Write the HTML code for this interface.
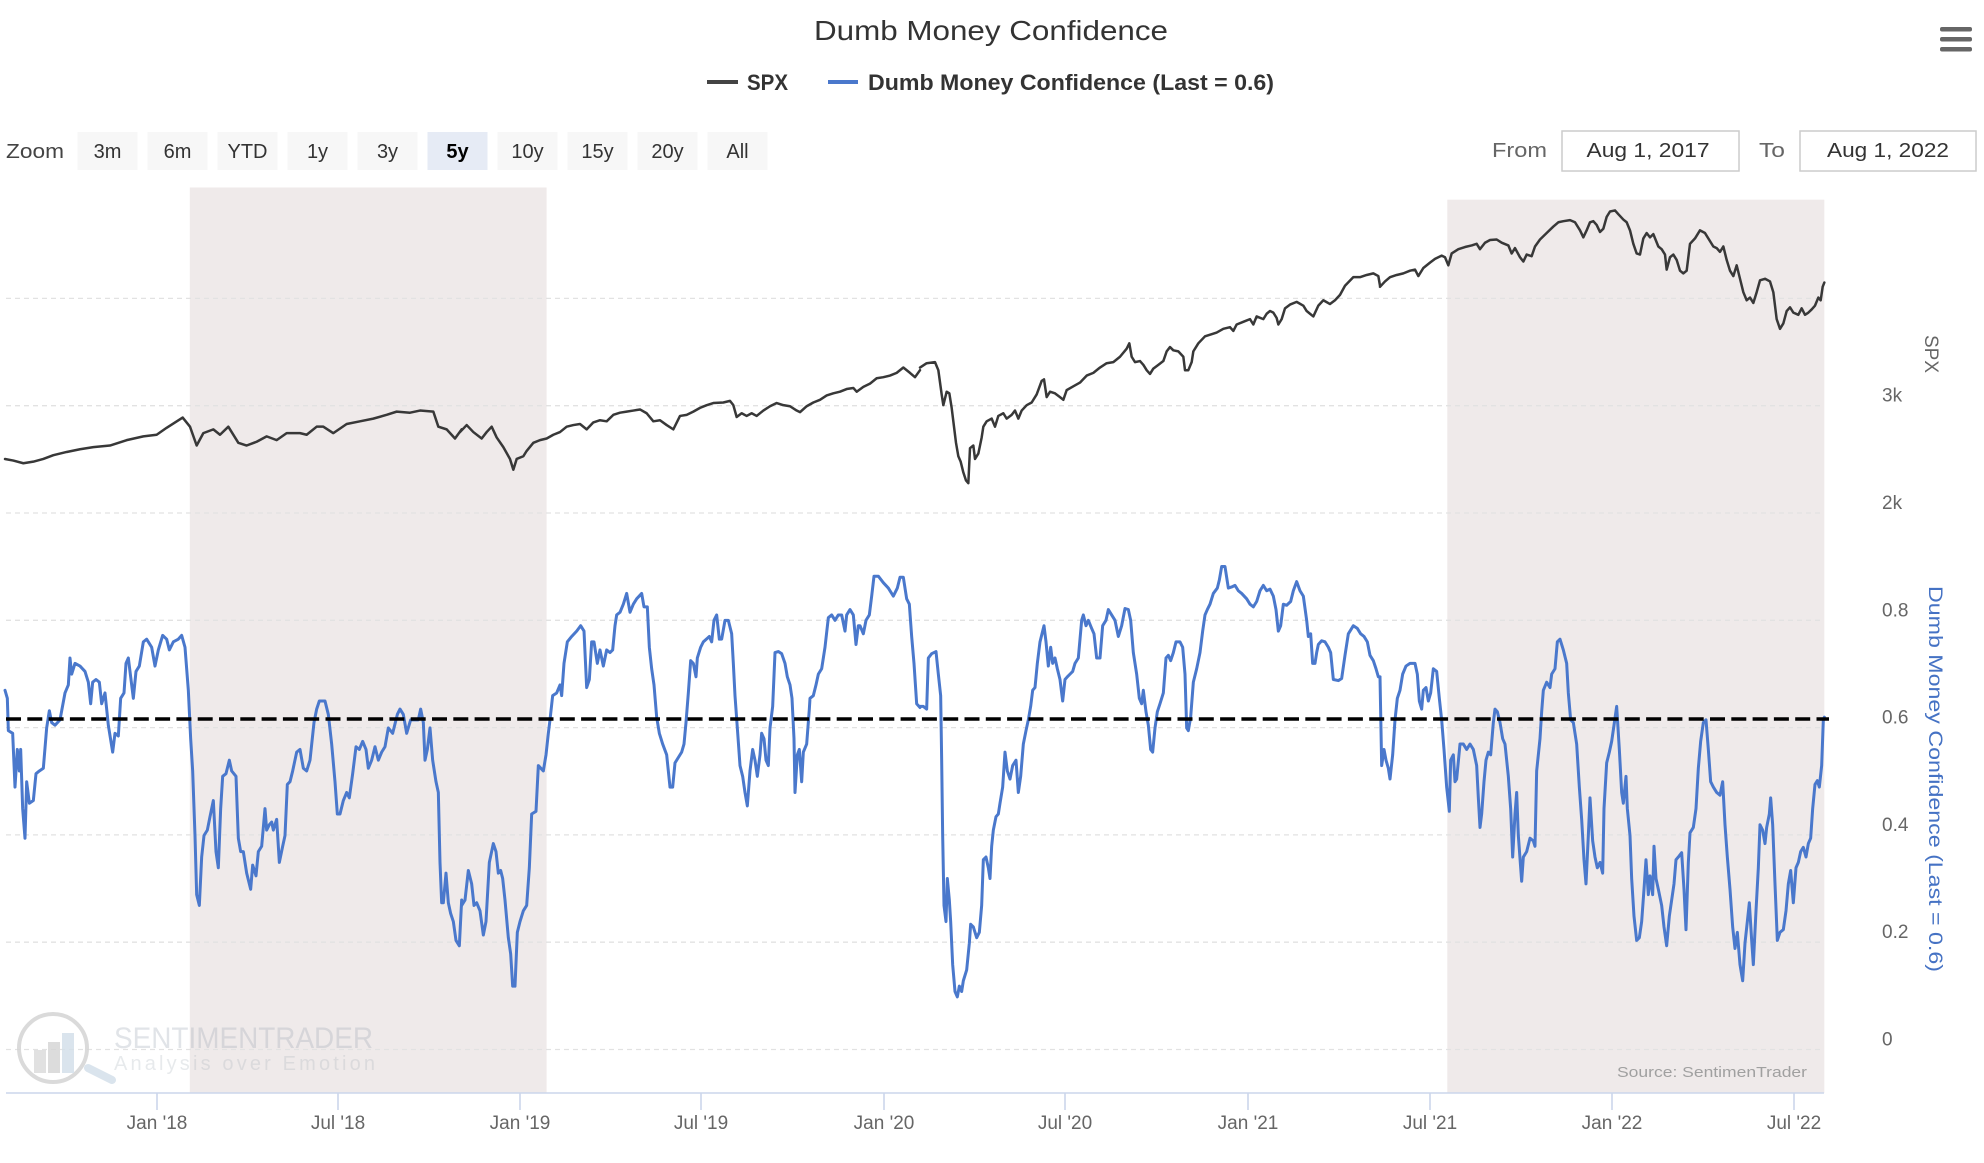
<!DOCTYPE html>
<html><head><meta charset="utf-8">
<style>
html,body{margin:0;padding:0;background:#fff;}
svg{display:block;}
text{font-family:"Liberation Sans",sans-serif;}
</style></head>
<body>
<svg width="1984" height="1163" viewBox="0 0 1984 1163" xmlns="http://www.w3.org/2000/svg">
<rect x="0" y="0" width="1984" height="1163" fill="#fff"/>

<!-- Title -->
<text x="991" y="40" text-anchor="middle" font-size="28" fill="#333" textLength="354" lengthAdjust="spacingAndGlyphs">Dumb Money Confidence</text>

<!-- Hamburger -->
<rect x="1940" y="27" width="32" height="4.5" rx="2" fill="#666"/>
<rect x="1940" y="37" width="32" height="4.5" rx="2" fill="#666"/>
<rect x="1940" y="47" width="32" height="4.5" rx="2" fill="#666"/>

<!-- Legend -->
<line x1="707" y1="82" x2="738" y2="82" stroke="#444" stroke-width="4"/>
<text x="747" y="90" font-size="22" font-weight="bold" fill="#333" textLength="41" lengthAdjust="spacingAndGlyphs">SPX</text>
<line x1="828" y1="82" x2="858" y2="82" stroke="#4a78cc" stroke-width="4"/>
<text x="868" y="90" font-size="22" font-weight="bold" fill="#333" textLength="406" lengthAdjust="spacingAndGlyphs">Dumb Money Confidence (Last = 0.6)</text>

<!-- Zoom buttons -->
<text x="6" y="158" font-size="20" fill="#444" textLength="58" lengthAdjust="spacingAndGlyphs">Zoom</text>
<g font-size="20" fill="#333" text-anchor="middle">
<rect x="77.5" y="132" width="60" height="38" fill="#f7f7f7"/><text x="107.5" y="158">3m</text>
<rect x="147.5" y="132" width="60" height="38" fill="#f7f7f7"/><text x="177.5" y="158">6m</text>
<rect x="217.5" y="132" width="60" height="38" fill="#f7f7f7"/><text x="247.5" y="158">YTD</text>
<rect x="287.5" y="132" width="60" height="38" fill="#f7f7f7"/><text x="317.5" y="158">1y</text>
<rect x="357.5" y="132" width="60" height="38" fill="#f7f7f7"/><text x="387.5" y="158">3y</text>
<rect x="427.5" y="132" width="60" height="38" fill="#e6ebf5"/><text x="457.5" y="158" font-weight="bold" fill="#000">5y</text>
<rect x="497.5" y="132" width="60" height="38" fill="#f7f7f7"/><text x="527.5" y="158">10y</text>
<rect x="567.5" y="132" width="60" height="38" fill="#f7f7f7"/><text x="597.5" y="158">15y</text>
<rect x="637.5" y="132" width="60" height="38" fill="#f7f7f7"/><text x="667.5" y="158">20y</text>
<rect x="707.5" y="132" width="60" height="38" fill="#f7f7f7"/><text x="737.5" y="158">All</text>
</g>

<!-- From / To -->
<text x="1492" y="157" font-size="20" fill="#666" textLength="55" lengthAdjust="spacingAndGlyphs">From</text>
<rect x="1562" y="131" width="177" height="40" fill="#fff" stroke="#ccc" stroke-width="1.5"/>
<text x="1648" y="157" font-size="20" fill="#333" text-anchor="middle" textLength="123" lengthAdjust="spacingAndGlyphs">Aug 1, 2017</text>
<text x="1759" y="157" font-size="20" fill="#666" textLength="26" lengthAdjust="spacingAndGlyphs">To</text>
<rect x="1800" y="131" width="176" height="40" fill="#fff" stroke="#ccc" stroke-width="1.5"/>
<text x="1888" y="157" font-size="20" fill="#333" text-anchor="middle" textLength="122" lengthAdjust="spacingAndGlyphs">Aug 1, 2022</text>

<!-- Shaded bands -->
<rect x="189.8" y="187.5" width="356.8" height="905.5" fill="#efeaea"/>
<rect x="1447.3" y="199.7" width="377" height="893.3" fill="#efeaea"/>

<!-- Gridlines -->
<g stroke="#e2e2e2" stroke-width="1.3" stroke-dasharray="5,4">
<line x1="6" y1="298.4" x2="1824" y2="298.4"/>
<line x1="6" y1="405.7" x2="1824" y2="405.7"/>
<line x1="6" y1="513" x2="1824" y2="513"/>
<line x1="6" y1="620.3" x2="1824" y2="620.3"/>
<line x1="6" y1="727.6" x2="1824" y2="727.6"/>
<line x1="6" y1="834.9" x2="1824" y2="834.9"/>
<line x1="6" y1="942.2" x2="1824" y2="942.2"/>
<line x1="6" y1="1049.5" x2="1824" y2="1049.5"/>
</g>

<!-- Watermark -->
<g opacity="0.85">
<circle cx="53" cy="1048" r="34" fill="none" stroke="#d4d4d4" stroke-width="4"/>
<rect x="34" y="1050" width="12" height="23" fill="#dcdcdc"/>
<rect x="48" y="1042" width="12" height="31" fill="#d6d6d6"/>
<rect x="62" y="1033" width="12" height="40" fill="#d4e0ea"/>
<line x1="88" y1="1068" x2="112" y2="1080" stroke="#d4e0ea" stroke-width="8" stroke-linecap="round"/>
<text x="114" y="1048" font-size="30" fill="#9aa5b1" opacity="0.35" textLength="259" lengthAdjust="spacingAndGlyphs">SENTIMENTRADER</text>
<text x="114" y="1070" font-size="20" fill="#9aa5b1" opacity="0.28" textLength="261" lengthAdjust="spacing">Analysis over Emotion</text>
</g>
<text x="1807" y="1077" font-size="15" fill="#a0a0a0" text-anchor="end" textLength="190" lengthAdjust="spacingAndGlyphs">Source: SentimenTrader</text>

<!-- SPX series -->
<g fill="none" stroke="#383838" stroke-width="2.5" stroke-linejoin="round" stroke-linecap="round">
<g transform="translate(0,190) scale(0.333333,0.537923)">
<path vector-effect="non-scaling-stroke" d="M15,500 L40,503 70,508 100,505 130,500 160,493 200,487 240,482 280,478 330,475 380,465 430,458 470,455 500,442 548,423 570,440 590,475 610,452 640,445 660,455 685,440 715,470 740,475 770,468 800,458 830,465 860,452 900,452 920,455 950,440 970,440 1000,452 1040,435 1080,430 1120,425 1160,418 1190,412 1230,414 1260,410 1300,412 1315,440 1340,445 1365,462 1385,445"/>
</g>
<g transform="translate(460,190) scale(0.333333,0.537923)">
<path vector-effect="non-scaling-stroke" d="M0,450 L20,437 40,450 65,462 80,450 95,440 110,460 130,478 150,500 160,520 170,500 190,495 200,485 220,470 240,465 260,462 280,455 300,450 320,440 340,437 360,435 380,445 400,432 420,428 440,430 460,418 480,414 500,412 520,410 540,408 560,415 580,430 600,428 620,437 640,445 660,420 680,418 700,412 720,405 740,400 760,396 790,395 810,392 820,400 830,422 845,415 860,420 875,415 890,420 910,410 930,402 950,396 970,400 990,402 1010,410 1020,413 1040,402 1060,395 1080,390 1100,382 1120,378 1140,375 1160,370 1180,368 1190,375 1210,366 1230,360 1250,350 1270,348 1290,345 1310,340 1330,330 1350,340 1365,348 1380,335"/>
</g>
<g transform="translate(920,190) scale(0.333333,0.537923)">
<path vector-effect="non-scaling-stroke" d="M0,330 L20,322 45,320 55,335 65,380 70,400 80,375 88,378 95,405 100,430 108,470 115,495 122,505 130,525 138,540 145,545 150,480 160,475 165,500 175,490 185,460 190,440 200,430 215,425 225,440 235,420 250,415 260,425 275,418 285,410 295,425 305,410 320,400 335,395 350,380 365,355 372,352 380,385 390,375 405,378 420,385 430,390 440,372 460,365 480,358 500,345 520,340 540,330 560,322 580,320 600,310 620,295 628,285 635,310 645,320 660,318 670,325 680,335 690,342 700,332 715,325 730,318 740,300 750,292 760,298 775,300 790,310 795,335 805,335 815,320 820,300 835,285 855,272 875,268 890,265 910,258 930,255 940,262 950,250 970,245 990,240 1000,250 1010,235 1030,240 1040,230 1050,225 1060,228 1070,238 1075,250 1085,240 1095,220 1110,213 1130,208 1150,215 1160,225 1170,230 1180,235 1195,215 1210,205 1230,212 1245,205 1260,195 1275,178 1300,162 1320,162 1340,158 1360,155 1375,160 1380,178"/>
</g>
<g transform="translate(1380,190) scale(0.333333,0.537923)">
<path vector-effect="non-scaling-stroke" d="M0,180 L15,170 30,162 50,158 70,155 90,150 105,148 115,160 130,145 150,135 165,128 185,122 195,125 205,140 215,118 235,110 255,106 275,103 290,100 300,110 315,98 330,93 350,92 365,98 385,103 395,118 405,108 420,125 430,133 440,120 455,123 465,105 480,92 500,80 520,68 535,60 550,58 570,56 585,60 600,75 610,88 620,75 630,60 640,58 650,65 660,78 670,72 680,50 690,40 705,38 715,45 730,55 740,60 750,75 760,100 770,118 780,120 790,90 800,80 810,88 820,82 835,105 845,110 855,120 860,148 870,125 880,120 890,130 900,150 910,155 920,150 930,100 945,90 960,75 975,80 990,95 1000,105 1010,108 1020,115 1030,105 1040,130 1050,150 1060,160 1070,140 1080,165 1090,190 1100,205 1110,200 1120,210 1130,190 1140,168 1155,165 1170,170 1180,190 1190,240 1200,258 1210,248 1220,225 1230,218 1240,228 1255,232 1265,220 1275,232 1285,228 1295,222 1305,215 1315,200 1322,205 1328,180 1333,172"/>
</g>
</g>

<!-- DMC series -->
<g fill="none" stroke="#4a78cc" stroke-width="3" stroke-linejoin="round" stroke-linecap="round">
<g transform="translate(0,190) scale(0.333333,0.537923)">
<path vector-effect="non-scaling-stroke" d="M15,930 L22,945 25,1005 38,1010 45,1110 52,1040 58,1080 62,1040 68,1150 75,1205 80,1100 88,1140 100,1135 108,1085 118,1080 130,1075 140,1000 148,968 155,990 165,995 180,985 195,935 205,920 210,870 215,900 225,880 240,885 255,895 265,915 272,955 278,915 288,910 298,915 305,955 315,935 325,995 338,1045 345,1010 355,1015 362,945 372,935 378,880 385,870 392,905 400,945 408,895 418,885 430,840 440,835 455,850 465,885 475,855 488,828 500,835 508,855 520,840 535,835 545,828 555,850 565,930 572,1020 578,1080 585,1200 590,1310 598,1330 605,1240 612,1200 622,1190 630,1165 640,1135 648,1230 655,1260 662,1150 668,1090 678,1085 688,1060 695,1080 708,1090 715,1205 722,1230 730,1230 740,1270 752,1300 758,1255 768,1275 775,1230 785,1220 795,1150 800,1190 808,1180 815,1175 820,1190 830,1170 838,1250 848,1220 855,1200 862,1105 870,1100 878,1080 890,1045 900,1040 910,1075 920,1080 930,1060 942,990 950,965 958,950 975,950 985,975 995,1030 1005,1100 1012,1160 1020,1160 1030,1135 1040,1120 1048,1130 1058,1085 1068,1035 1078,1040 1088,1025 1098,1040 1105,1075 1115,1060 1125,1035 1135,1060 1145,1045 1155,1035 1165,1000 1178,1010 1192,975 1200,965 1210,975 1220,1010 1232,985 1245,985 1255,985 1262,965 1270,990 1275,1060 1282,1040 1290,1000 1298,1060 1308,1100 1315,1120 1320,1250 1325,1325 1330,1325 1338,1270 1345,1325 1352,1345 1360,1360 1368,1395 1378,1405 1385,1320"/>
</g>
<g transform="translate(460,190) scale(0.333333,0.537923)">
<path vector-effect="non-scaling-stroke" d="M5,1330 L15,1320 25,1265 35,1290 42,1330 50,1325 60,1340 70,1385 78,1360 88,1250 100,1215 108,1230 115,1270 122,1265 128,1280 135,1320 145,1390 152,1420 158,1480 165,1480 172,1380 180,1360 190,1340 200,1330 208,1260 215,1160 228,1155 235,1070 250,1080 258,1050 265,1010 270,985 278,940 290,935 300,920 305,940 312,880 322,840 335,830 350,820 362,810 372,820 380,925 388,910 395,840 402,840 412,880 420,855 430,885 440,855 450,860 458,855 465,810 470,790 480,785 490,770 500,750 510,785 520,770 530,760 545,750 552,775 562,775 568,850 575,890 582,920 590,980 598,1010 608,1030 620,1050 630,1110 638,1110 645,1065 655,1055 665,1045 672,1030 678,990 685,935 692,875 700,880 708,905 712,870 722,850 730,840 748,830 755,840 762,800 770,790 778,835 785,835 795,800 805,800 815,825 820,880 825,940 832,1000 840,1070 848,1090 855,1120 862,1145 870,1080 878,1040 885,1060 892,1090 900,1050 905,1010 912,1020 918,1060 925,1070 930,1000 938,960 945,860 955,858 965,862 975,880 982,905 990,920 996,945 1002,1020 1005,1120 1012,1050 1018,1040 1025,1100 1030,1045 1040,1030 1048,965 1050,945 1060,940 1068,920 1075,900 1085,890 1095,850 1105,795 1115,790 1125,800 1135,790 1145,790 1155,820 1160,790 1170,780 1180,790 1188,845 1195,810 1200,810 1210,825 1218,800 1228,790 1235,755 1242,718 1255,718 1270,730 1285,740 1300,755 1312,740 1320,720 1330,720 1340,760 1348,770 1355,830 1362,880 1370,955 1380,962"/>
</g>
<g transform="translate(920,190) scale(0.333333,0.537923)">
<path vector-effect="non-scaling-stroke" d="M0,960 L10,960 20,965 25,870 35,862 48,858 55,900 62,940 65,1060 68,1200 72,1330 78,1360 82,1280 88,1320 92,1360 98,1440 105,1490 112,1500 118,1480 125,1490 130,1470 140,1450 148,1400 152,1365 160,1370 170,1390 178,1380 185,1330 190,1245 198,1240 205,1260 210,1280 215,1220 220,1190 228,1165 235,1160 240,1140 248,1110 255,1045 262,1080 270,1095 278,1070 288,1060 295,1120 302,1090 310,1030 318,1005 325,985 332,960 338,930 345,925 352,880 360,840 372,810 378,840 385,885 392,850 398,880 405,870 412,890 420,910 428,950 435,910 442,905 450,900 458,895 465,880 475,870 485,800 490,790 498,810 505,800 515,815 522,825 530,870 540,870 548,810 558,800 565,780 575,790 585,800 595,830 605,810 615,778 625,780 632,800 640,860 650,900 658,945 665,955 670,930 678,970 685,995 692,1040 698,1045 705,1000 712,970 720,955 730,935 738,870 745,865 752,875 760,860 768,840 780,840 788,850 795,900 800,1000 805,1005 812,980 820,915 830,890 840,860 848,820 855,790 862,780 870,770 880,750 892,740 898,725 905,700 915,700 925,740 935,738 945,735 955,745 965,750 980,760 990,770 1000,775 1010,765 1020,745 1030,735 1040,745 1050,742 1060,755 1068,780 1075,820 1082,810 1090,770 1100,772 1112,765 1120,745 1130,728 1140,745 1150,755 1160,800 1165,830 1172,825 1178,880 1185,880 1190,860 1195,845 1205,838 1215,840 1225,850 1232,860 1240,910 1255,912 1265,908 1275,865 1285,825 1300,810 1312,815 1322,825 1332,830 1342,840 1350,865 1360,875 1368,890 1375,905 1380,905"/>
</g>
<g transform="translate(1380,190) scale(0.333333,0.537923)">
<path vector-effect="non-scaling-stroke" d="M0,905 L5,1070 12,1040 18,1060 25,1075 30,1095 38,1050 45,985 52,945 60,930 68,900 78,885 90,880 105,880 112,900 118,950 125,965 130,930 138,925 145,950 152,935 160,890 170,895 178,945 185,985 192,1040 200,1110 208,1155 212,1060 220,1050 225,1100 230,1095 240,1030 250,1030 260,1040 270,1030 280,1040 290,1070 295,1130 300,1185 305,1160 312,1100 318,1060 325,1045 332,1050 340,990 345,965 352,970 360,990 368,1020 375,1030 385,1090 392,1150 398,1240 405,1160 410,1120 415,1200 425,1285 430,1240 440,1230 450,1205 460,1210 465,1220 470,1080 480,1020 485,970 490,930 500,915 510,925 515,900 525,890 532,840 540,835 550,855 560,880 565,935 572,985 580,990 590,1030 598,1110 605,1170 612,1245 618,1290 625,1200 630,1130 638,1210 645,1240 652,1260 660,1250 668,1270 672,1150 680,1065 688,1045 695,1025 702,995 710,960 718,1040 725,1120 730,1140 738,1090 742,1150 750,1200 755,1280 762,1350 770,1395 778,1390 785,1360 792,1300 798,1245 805,1310 810,1275 818,1310 822,1220 828,1280 835,1300 845,1330 852,1370 860,1405 868,1350 875,1320 882,1290 888,1245 895,1240 905,1232 912,1300 918,1375 925,1250 930,1195 940,1185 948,1150 955,1075 962,1025 970,990 978,985 985,1040 992,1100 1000,1110 1010,1120 1020,1125 1028,1100 1035,1180 1042,1240 1050,1300 1058,1370 1065,1410 1072,1380 1080,1440 1088,1470 1095,1400 1102,1360 1108,1325 1115,1395 1120,1440 1128,1340 1135,1260 1140,1180 1148,1190 1155,1215 1160,1185 1168,1160 1172,1130 1178,1180 1185,1290 1192,1395 1200,1380 1210,1375 1218,1340 1225,1290 1232,1265 1240,1325 1248,1260 1255,1250 1262,1230 1270,1222 1278,1240 1285,1215 1292,1205 1298,1150 1305,1105 1312,1098 1318,1110 1325,1070 1330,985 1333,980"/>
</g>
</g>

<!-- Dashed 0.6 line -->
<line x1="6" y1="719" x2="1829" y2="719" stroke="#000" stroke-width="3.5" stroke-dasharray="15,6.3"/>

<!-- X axis -->
<line x1="6" y1="1093" x2="1824" y2="1093" stroke="#ccd6eb" stroke-width="1.6"/>
<g stroke="#ccd6eb" stroke-width="1.6">
<line x1="157" y1="1093" x2="1093" y2="1093" stroke="none"/>
<line x1="157" y1="1093" x2="157" y2="1110"/>
<line x1="338" y1="1093" x2="338" y2="1110"/>
<line x1="520" y1="1093" x2="520" y2="1110"/>
<line x1="701" y1="1093" x2="701" y2="1110"/>
<line x1="884" y1="1093" x2="884" y2="1110"/>
<line x1="1065" y1="1093" x2="1065" y2="1110"/>
<line x1="1248" y1="1093" x2="1248" y2="1110"/>
<line x1="1430" y1="1093" x2="1430" y2="1110"/>
<line x1="1612" y1="1093" x2="1612" y2="1110"/>
<line x1="1794" y1="1093" x2="1794" y2="1110"/>
</g>
<g font-size="19" fill="#666" text-anchor="middle">
<text x="157" y="1129">Jan '18</text>
<text x="338" y="1129">Jul '18</text>
<text x="520" y="1129">Jan '19</text>
<text x="701" y="1129">Jul '19</text>
<text x="884" y="1129">Jan '20</text>
<text x="1065" y="1129">Jul '20</text>
<text x="1248" y="1129">Jan '21</text>
<text x="1430" y="1129">Jul '21</text>
<text x="1612" y="1129">Jan '22</text>
<text x="1794" y="1129">Jul '22</text>
</g>

<!-- Right axis labels -->
<g font-size="19" fill="#666">
<text x="1882" y="401.7">3k</text>
<text x="1882" y="509">2k</text>
<text x="1882" y="616.3">0.8</text>
<text x="1882" y="723.6">0.6</text>
<text x="1882" y="830.9">0.4</text>
<text x="1882" y="938.2">0.2</text>
<text x="1882" y="1045.5">0</text>
</g>
<text transform="translate(1925,354) rotate(90)" x="0" y="0" font-size="19" fill="#666" text-anchor="middle">SPX</text>
<text transform="translate(1929,779) rotate(90)" x="0" y="0" font-size="19" fill="#4572c4" text-anchor="middle" textLength="386" lengthAdjust="spacingAndGlyphs">Dumb Money Confidence (Last = 0.6)</text>
</svg>
</body></html>
